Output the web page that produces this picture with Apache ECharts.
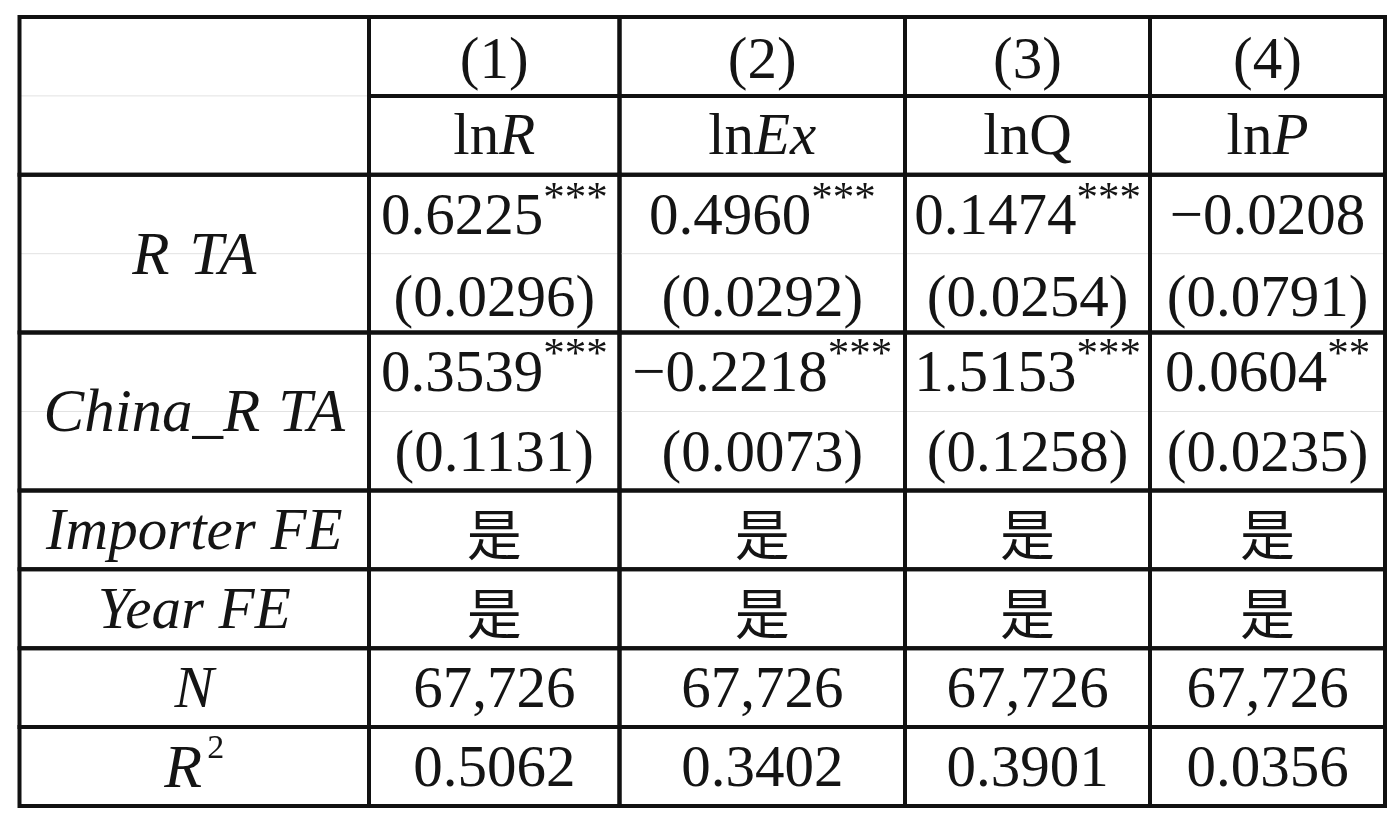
<!DOCTYPE html>
<html><head><meta charset="utf-8">
<script src="https://cdn.jsdelivr.net/npm/echarts@6/dist/echarts.min.js"></script>
<style>html,body{margin:0;padding:0;background:#fff}#c{width:1400px;height:821px}</style>
</head><body><div id="c"></div>
<script>
// ---------- table content ----------
const modelNumbers = ['(1)', '(2)', '(3)', '(4)'];
const depVarPrefix = ['ln', 'ln', 'ln', 'ln'];
const depVarSymbol = ['R', 'Ex', 'Q', 'P'];
const depVarItalic = [true, true, false, true];
const rowLabels = ['RTA', 'China_RTA', 'Importer FE', 'Year FE', 'N', 'R'];
const rtaCoef = [0.6225, 0.4960, 0.1474, -0.0208];
const rtaStars = ['***', '***', '***', ''];
const rtaSE = [0.0296, 0.0292, 0.0254, 0.0791];
const chinaRtaCoef = [0.3539, -0.2218, 1.5153, 0.0604];
const chinaRtaStars = ['***', '***', '***', '**'];
const chinaRtaSE = [0.1131, 0.0073, 0.1258, 0.0235];
const importerFE = ['是', '是', '是', '是'];
const yearFE = ['是', '是', '是', '是'];
const obsN = [67726, 67726, 67726, 67726];
const rSquared = [0.5062, 0.3402, 0.3901, 0.0356];

// ---------- layout (axis units) ----------
const colEdges = [0, 349.5, 600, 885.5, 1130.5, 1365.5];
const rowEdges = [0, 1, 2, 4, 6, 7, 8, 9, 10];

const SERIF = '"Liberation Serif", "Times New Roman", serif';
const CJK = '"Noto Sans CJK SC", sans-serif';
const FS = 59;
const INK = '#141414';

const fmt4 = v => (v < 0 ? '\u2212' : '') + Math.abs(v).toFixed(4);
const run = (t, o) => Object.assign({ t: t, italic: false, size: FS, rise: 0, family: SERIF, gap: 0 }, o || {});

// build cells
const cells = [];
function addCell(c, r0, r1, lines, faint) {
  cells.push({ x0: colEdges[c], x1: colEdges[c + 1], y0: r0, y1: r1, lines: lines, faint: faint || [] });
}
// header label cell (spans two header rows)
addCell(0, 0, 2, [], [1]);
for (let j = 0; j < 4; j++) {
  addCell(j + 1, 0, 1, [{ u: 0.5, dy: 6, runs: [run(modelNumbers[j])] }]);
  addCell(j + 1, 1, 2, [{ u: 1.5, dy: 3, runs: [run(depVarPrefix[j]), run(depVarSymbol[j], { italic: depVarItalic[j] })] }]);
}
// RTA
addCell(0, 2, 4, [{ u: 3, dy: 4, runs: [run('R', { italic: true, size: 61 }), run('TA', { italic: true, size: 61, gap: 20 })] }], [3]);
addCell(0, 4, 6, [{ u: 5, dy: 3, runs: [run('China_R', { italic: true, size: 61 }), run('TA', { italic: true, size: 61, gap: 18 })] }], [5]);
for (let j = 0; j < 4; j++) {
  addCell(j + 1, 2, 4, [
    { u: 2.5, dy: 4, runs: [run(fmt4(rtaCoef[j])), run(rtaStars[j], { size: 43, rise: 19 })] },
    { u: 3.5, dy: 7, runs: [run('(' + fmt4(rtaSE[j]) + ')')] }
  ], [3]);
  addCell(j + 1, 4, 6, [
    { u: 4.5, dy: 3, runs: [run(fmt4(chinaRtaCoef[j])), run(chinaRtaStars[j], { size: 43, rise: 19 })] },
    { u: 5.5, dy: 5, runs: [run('(' + fmt4(chinaRtaSE[j]) + ')')] }
  ], [5]);
}
const simpleRows = [
  { r: 6, label: [run(rowLabels[2], { italic: true })], vals: importerFE.map(v => [run(v, { family: CJK, size: 55 })]) },
  { r: 7, label: [run(rowLabels[3], { italic: true })], vals: yearFE.map(v => [run(v, { family: CJK, size: 55 })]) },
  { r: 8, label: [run(rowLabels[4], { italic: true })], vals: obsN.map(v => [run(v.toLocaleString('en-US'))]) },
  { r: 9, label: [run(rowLabels[5], { italic: true, size: 62 }), run('2', { size: 34, rise: 21, gap: 5 })], vals: rSquared.map(v => [run(v.toFixed(4))]) }
];
simpleRows.forEach(sr => {
  addCell(0, sr.r, sr.r + 1, [{ u: sr.r + 0.5, dy: 4, runs: sr.label }]);
  for (let j = 0; j < 4; j++) addCell(j + 1, sr.r, sr.r + 1, [{ u: sr.r + 0.5, dy: 4, runs: sr.vals[j] }]);
});

// text measurement
const mctx = document.createElement('canvas').getContext('2d');
function fontOf(r) { return (r.italic ? 'italic ' : 'normal ') + 'normal ' + r.size + 'px ' + r.family; }
function widthOf(r) { mctx.font = fontOf(r); return mctx.measureText(r.t).width; }

function renderItem(params, api) {
  const c = cells[params.dataIndex];
  const p0 = api.coord([c.x0, c.y0]);
  const p1 = api.coord([c.x1, c.y1]);
  const children = [];
  c.faint.forEach(u => {
    const a = api.coord([c.x0, u]), b = api.coord([c.x1, u]);
    children.push({ type: 'line', shape: { x1: a[0], y1: a[1], x2: b[0], y2: b[1] }, style: { stroke: '#e2e2e2', lineWidth: 1 } });
  });
  const cx = (p0[0] + p1[0]) / 2;
  c.lines.forEach(line => {
    const y = api.coord([0, line.u])[1] + line.dy;
    const runs = line.runs.filter(r => r.t !== '');
    const widths = runs.map(widthOf);
    let total = 0;
    runs.forEach((r, i) => { total += widths[i] + r.gap; });
    let x = cx - total / 2;
    runs.forEach((r, i) => {
      x += r.gap;
      children.push({
        type: 'text',
        x: x, y: y - r.rise,
        style: {
          text: r.t, fill: INK,
          fontSize: r.size, fontFamily: r.family, fontStyle: r.italic ? 'italic' : 'normal',
          align: 'left', verticalAlign: 'middle', textAlign: 'left', textVerticalAlign: 'middle'
        }
      });
      x += widths[i];
    });
  });
  children.push({
    type: 'rect',
    shape: { x: p0[0], y: p0[1], width: p1[0] - p0[0], height: p1[1] - p0[1] },
    style: { fill: 'none', stroke: '#111', lineWidth: 4 }
  });
  return { type: 'group', children: children };
}

const chart = echarts.init(document.getElementById('c'), null, { renderer: 'canvas' });
chart.setOption({
  animation: false,
  backgroundColor: '#fff',
  grid: { left: 19.5, right: 15, top: 17, bottom: 15 },
  xAxis: { type: 'value', min: 0, max: colEdges[colEdges.length - 1], show: false },
  yAxis: { type: 'value', min: 0, max: rowEdges[rowEdges.length - 1], inverse: true, show: false },
  series: [{
    type: 'custom',
    renderItem: renderItem,
    data: cells.map(c => [c.x0, c.y0, c.x1, c.y1]),
    encode: { x: [0, 2], y: [1, 3] },
    silent: true,
    clip: false
  }]
});
</script>
</body></html>
